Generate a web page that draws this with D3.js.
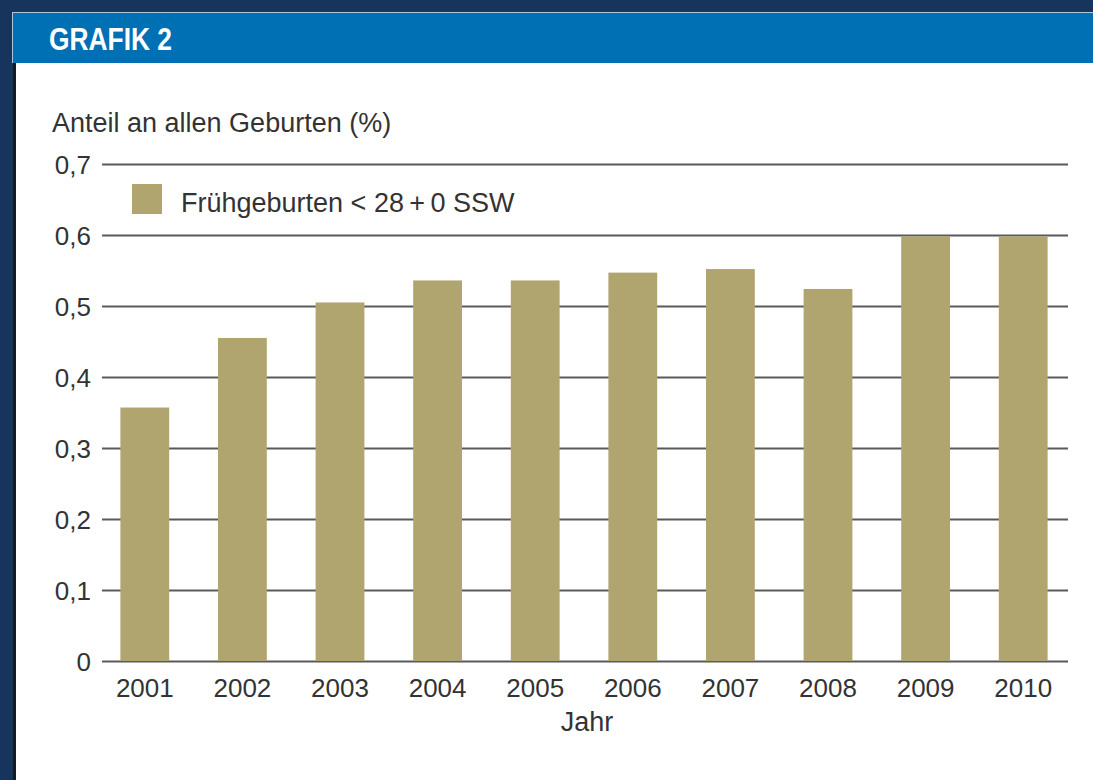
<!DOCTYPE html>
<html>
<head>
<meta charset="utf-8">
<script src="https://cdn.jsdelivr.net/npm/d3@7"></script>
<style>
  html, body { margin: 0; padding: 0; background: #17345c; }
  svg { display: block; }
</style>
</head>
<body>
<svg id="chart"></svg>
<script>
// Data
const years = ['2001', '2002', '2003', '2004', '2005', '2006', '2007', '2008', '2009', '2010'];
const shares = [0.357, 0.455, 0.505, 0.536, 0.536, 0.547, 0.552, 0.524, 0.598, 0.598];
const yTicks = [0, 0.1, 0.2, 0.3, 0.4, 0.5, 0.6, 0.7];
const legendLabel = 'Frühgeburten < 28\u2009+\u20090 SSW';

const width = 1093;
const height = 780;
const barColor = '#b0a56f';
const gridColor = '#5a5a5a';
const textColor = '#333333';
const font = "'Liberation Sans', Arial, sans-serif";

const svg = d3.select('#chart')
  .attr('width', width)
  .attr('height', height);

// Background frame
svg.append('rect')
  .attr('width', width).attr('height', height)
  .attr('fill', '#17345c');

// white panel
svg.append('rect')
  .attr('x', 13).attr('y', 63)
  .attr('width', width - 13).attr('height', height - 63)
  .attr('fill', '#ffffff');

svg.append('rect')
  .attr('x', 13).attr('y', 63)
  .attr('width', 3).attr('height', height - 63)
  .attr('fill', '#1a1a1a');

// header bar
svg.append('rect')
  .attr('x', 12).attr('y', 12)
  .attr('width', width - 12).attr('height', 51)
  .attr('fill', '#a9c6e2');
svg.append('rect')
  .attr('x', 13).attr('y', 13)
  .attr('width', width - 13).attr('height', 50)
  .attr('fill', '#0070b4');

svg.append('text')
  .attr('x', 49).attr('y', 50)
  .attr('font-family', font)
  .attr('font-weight', 'bold')
  .attr('font-size', 32)
  .attr('textLength', 123)
  .attr('lengthAdjust', 'spacingAndGlyphs')
  .attr('fill', '#ffffff')
  .text('GRAFIK 2');

// Scales
const xScale = d3.scaleBand()
  .domain(years)
  .range([96, 1072])
  .paddingInner(0.5)
  .paddingOuter(0.25);

const yScale = d3.scaleLinear()
  .domain([0, 0.7])
  .range([661, 164]);

const gridLeft = 102;
const gridRight = 1068;

// Y axis + gridlines (under the bars)
const yAxis = d3.axisLeft(yScale)
  .tickValues(yTicks)
  .tickSize(-(gridRight - gridLeft))
  .tickPadding(11)
  .tickFormat(d => d === 0 ? '0' : d3.format('.1f')(d).replace('.', ','));

const yAxisGroup = svg.append('g')
  .attr('transform', `translate(${gridLeft},0)`)
  .call(yAxis);

yAxisGroup.select('.domain').remove();
yAxisGroup.selectAll('line')
  .attr('stroke', gridColor)
  .attr('stroke-width', 2);
yAxisGroup.selectAll('text')
  .attr('font-family', font)
  .attr('font-size', 26)
  .attr('fill', textColor)
  .attr('dy', '0.36em');

// Bars
svg.selectAll('rect.bar')
  .data(years)
  .enter()
  .append('rect')
  .attr('class', 'bar')
  .attr('x', d => xScale(d))
  .attr('y', (d, i) => yScale(shares[i]))
  .attr('width', xScale.bandwidth())
  .attr('height', (d, i) => yScale(0) - yScale(shares[i]))
  .attr('fill', barColor);

// X axis labels
const xAxis = d3.axisBottom(xScale).tickSize(0);
const xAxisGroup = svg.append('g')
  .attr('transform', `translate(0,${yScale(0)})`)
  .call(xAxis);
xAxisGroup.select('.domain').remove();
xAxisGroup.selectAll('text')
  .attr('font-family', font)
  .attr('font-size', 26)
  .attr('fill', textColor)
  .attr('y', 36)
  .attr('dy', null);

// Axis titles
svg.append('text')
  .attr('x', 52).attr('y', 132)
  .attr('font-family', font)
  .attr('font-size', 27)
  .attr('fill', textColor)
  .text('Anteil an allen Geburten (%)');

svg.append('text')
  .attr('x', 587).attr('y', 731)
  .attr('text-anchor', 'middle')
  .attr('font-family', font)
  .attr('font-size', 27)
  .attr('fill', textColor)
  .text('Jahr');

// Legend
svg.append('rect')
  .attr('x', 132).attr('y', 184)
  .attr('width', 30).attr('height', 30)
  .attr('fill', barColor);

svg.append('text')
  .attr('x', 181).attr('y', 212)
  .attr('font-family', font)
  .attr('font-size', 27)
  .attr('fill', textColor)
  .text(legendLabel);
</script>
</body>
</html>
